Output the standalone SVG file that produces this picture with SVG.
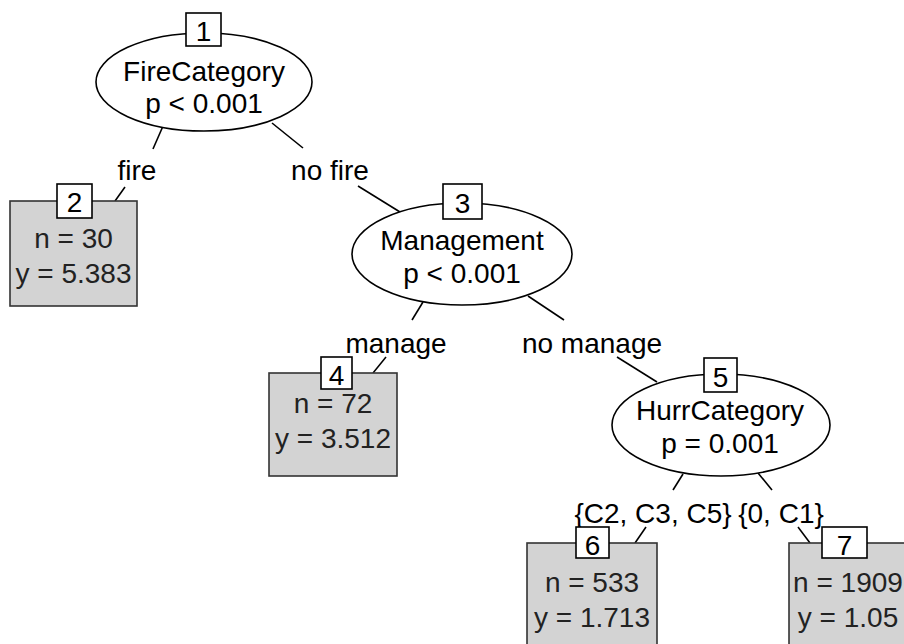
<svg xmlns="http://www.w3.org/2000/svg" width="904" height="644" viewBox="0 0 904 644">
<style>
text{font-family:"Liberation Sans",Arial,sans-serif;font-size:28px;text-anchor:middle;fill:#000}
.ell{fill:#fff;stroke:#000;stroke-width:1.6}
.leaf{fill:#d3d3d3;stroke:#333;stroke-width:1.6}
.idb{fill:#fff;stroke:#000;stroke-width:1.6}
.lt{fill:#222}
.edge{stroke:#000;stroke-width:1.6;fill:none}
</style>
<rect width="904" height="644" fill="#fff"/>
<g id="connectors">
<line class="edge" x1="163" y1="126" x2="153" y2="149"/>
<line class="edge" x1="125" y1="187" x2="115" y2="201"/>
<line class="edge" x1="272" y1="123" x2="303" y2="148"/>
<line class="edge" x1="358" y1="186" x2="400" y2="212"/>
<line class="edge" x1="423" y1="302" x2="412" y2="320"/>
<line class="edge" x1="386" y1="357" x2="373" y2="373"/>
<line class="edge" x1="528" y1="296" x2="564" y2="320"/>
<line class="edge" x1="617" y1="357" x2="657" y2="382"/>
<line class="edge" x1="683" y1="474" x2="673" y2="490"/>
<line class="edge" x1="646" y1="527" x2="635" y2="543"/>
<line class="edge" x1="758" y1="473" x2="772" y2="490"/>
<line class="edge" x1="798" y1="527" x2="810" y2="543"/>
<text x="137" y="180">fire</text>
<text x="330" y="180">no fire</text>
<text x="396" y="353">manage</text>
<text x="592" y="353">no manage</text>
<text x="653" y="523">{C2, C3, C5}</text>
<text x="781" y="523">{0, C1}</text>
</g>
<g id="node1">
<ellipse class="ell" cx="204" cy="82" rx="108" ry="49"/>
<rect class="idb" x="186" y="13" width="35" height="33"/>
<text x="203.5" y="41">1</text>
<text x="204" y="81">FireCategory</text>
<text x="204" y="113">p &lt; 0.001</text>
</g>
<g id="node2">
<rect class="leaf" x="10" y="201" width="127" height="105"/>
<rect class="idb" x="57" y="184" width="35" height="34"/>
<text x="74.5" y="212">2</text>
<text class="lt" x="73.5" y="248">n = 30</text>
<text class="lt" x="73.5" y="283">y = 5.383</text>
</g>
<g id="node3">
<ellipse class="ell" cx="462" cy="254" rx="110" ry="51"/>
<rect class="idb" x="443" y="184" width="39" height="35"/>
<text x="462.5" y="213">3</text>
<text x="462" y="250">Management</text>
<text x="462" y="283">p &lt; 0.001</text>
</g>
<g id="node4">
<rect class="leaf" x="269" y="373" width="128" height="103"/>
<rect class="idb" x="321" y="357" width="31" height="32"/>
<text x="336.5" y="385">4</text>
<text class="lt" x="333" y="413">n = 72</text>
<text class="lt" x="333" y="448">y = 3.512</text>
</g>
<g id="node5">
<ellipse class="ell" cx="721" cy="425" rx="109" ry="51"/>
<rect class="idb" x="704" y="358" width="33" height="34"/>
<text x="720.5" y="387">5</text>
<text x="720" y="420">HurrCategory</text>
<text x="720" y="453">p = 0.001</text>
</g>
<g id="node6">
<rect class="leaf" x="527" y="543" width="130" height="120"/>
<rect class="idb" x="576" y="527" width="33" height="31"/>
<text x="592.5" y="555">6</text>
<text class="lt" x="592" y="592">n = 533</text>
<text class="lt" x="592" y="627">y = 1.713</text>
</g>
<g id="node7">
<rect class="leaf" x="789" y="543" width="127" height="120"/>
<rect class="idb" x="822" y="527" width="45" height="31"/>
<text x="844.5" y="555">7</text>
<text class="lt" x="848" y="592">n = 1909</text>
<text class="lt" x="848" y="627">y = 1.05</text>
</g>
</svg>
